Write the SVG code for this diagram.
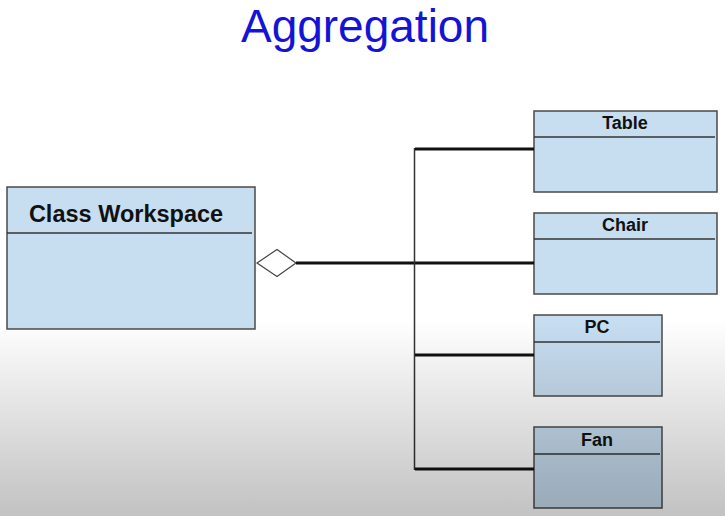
<svg xmlns="http://www.w3.org/2000/svg" width="725" height="516" viewBox="0 0 725 516">
<defs>
<linearGradient id="shade" x1="0" y1="0" x2="0" y2="516" gradientUnits="userSpaceOnUse">
<stop offset="0" stop-color="#000" stop-opacity="0"/>
<stop offset="0.62" stop-color="#000" stop-opacity="0"/>
<stop offset="1" stop-color="#000" stop-opacity="0.24"/>
</linearGradient>
<style>
.box{fill:#c7ddf0;stroke:#4a4a4a;stroke-width:1.5}
.div{stroke:#333;stroke-width:1.5}
.name{font-family:"Liberation Sans",Arial,sans-serif;font-weight:bold;fill:#111;text-anchor:middle}
.br{stroke:#111;stroke-width:3;fill:none}
</style>
</defs>
<rect width="725" height="516" fill="#fff"/>
<text x="365" y="42" font-family="Liberation Sans,Arial,sans-serif" font-size="46" fill="#1414d6" text-anchor="middle">Aggregation</text>
<g id="workspace">
<rect class="box" x="7" y="187" width="248" height="142"/>
<line class="div" x1="7" y1="233" x2="252" y2="233"/>
<text class="name" x="126" y="222" font-size="23.5">Class Workspace</text>
</g>
<g id="table">
<rect class="box" x="534" y="111" width="183" height="81"/>
<line class="div" x1="534" y1="137" x2="715" y2="137"/>
<text class="name" x="625" y="129" font-size="18">Table</text>
</g>
<g id="chair">
<rect class="box" x="534" y="213" width="183" height="81"/>
<line class="div" x1="534" y1="239" x2="715" y2="239"/>
<text class="name" x="625" y="231" font-size="18">Chair</text>
</g>
<g id="pc">
<rect class="box" x="534" y="315" width="128" height="81"/>
<line class="div" x1="534" y1="342" x2="660" y2="342"/>
<text class="name" x="597" y="333" font-size="18">PC</text>
</g>
<g id="fan">
<rect class="box" x="534" y="427" width="128" height="81"/>
<line class="div" x1="534" y1="454" x2="660" y2="454"/>
<text class="name" x="597" y="446" font-size="18">Fan</text>
</g>
<g id="connectors">
<polygon points="257,263 277,249.5 296,263 277,276.5" fill="#fff" stroke="#444" stroke-width="1.2"/>
<line class="br" x1="296" y1="263" x2="415" y2="263"/>
<line x1="414.5" y1="148" x2="414.5" y2="470" stroke="#333" stroke-width="1.5"/>
<line class="br" x1="415" y1="149" x2="534" y2="149"/>
<line class="br" x1="415" y1="263" x2="534" y2="263"/>
<line class="br" x1="415" y1="355" x2="534" y2="355"/>
<line class="br" x1="415" y1="469" x2="534" y2="469"/>
</g>
<rect width="725" height="516" fill="url(#shade)"/>
</svg>
